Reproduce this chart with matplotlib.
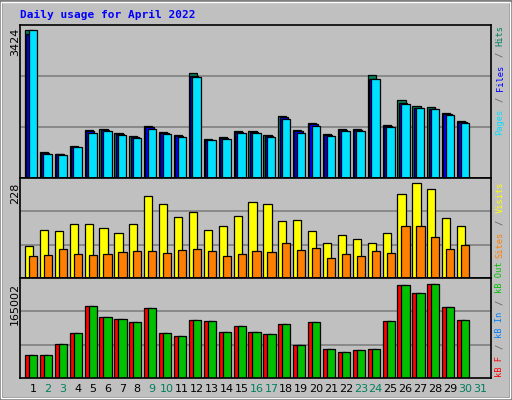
import matplotlib
matplotlib.use("Agg")
import matplotlib.pyplot as plt
from matplotlib.patches import Rectangle

# === data
days = list(range(1, 32))
weekend_days = [2, 3, 9, 10, 16, 17, 23, 24, 30, 31]

hits = [3424, 606, 559, 745, 1118, 1141, 1048, 978, 1211, 1071,
        1001, 2422, 908, 955, 1095, 1095, 1001, 1444, 1118, 1281,
        1025, 1141, 1141, 2375, 1234, 1793, 1677, 1654, 1514, 1328]
files = [3330, 585, 545, 725, 1080, 1100, 1010, 950, 1170, 1040,
         975, 2350, 885, 930, 1060, 1060, 975, 1400, 1080, 1240,
         995, 1105, 1105, 2300, 1195, 1740, 1630, 1605, 1470, 1290]
pages = [3424, 560, 530, 710, 1050, 1090, 990, 930, 1140, 1020,
         955, 2330, 870, 910, 1050, 1040, 960, 1370, 1050, 1210,
         980, 1090, 1090, 2290, 1180, 1720, 1620, 1600, 1460, 1270]

visits = [77, 116, 114, 131, 131, 121, 107, 131, 196, 178,
          146, 159, 116, 126, 149, 183, 178, 136, 139, 114,
          84, 104, 94, 84, 109, 203, 228, 213, 144, 126]
sites = [52, 55, 69, 57, 55, 57, 62, 64, 64, 59,
         67, 69, 64, 52, 57, 64, 62, 84, 67, 72,
         47, 57, 52, 64, 59, 124, 124, 99, 69, 79]

kbytes = [39900, 39900, 60400, 79800, 127500, 107000, 103400, 97900, 123300, 79800,
          74300, 101500, 99700, 81600, 90700, 81600, 78000, 94300, 58000, 97900,
          50800, 45300, 49000, 50800, 99700, 163200, 148700, 165002, 125100, 101500]

W, H = 512, 400
BG = "#c0c0c0"
C_HITS, C_FILES, C_PAGES = "#00805c", "#0000ff", "#00e0ff"
C_VISITS, C_SITES = "#ffff00", "#ff8000"
C_KBF, C_KBIN, C_KBOUT = "#ff0000", "#0080ff", "#00c000"

fig = plt.figure(figsize=(W / 100, H / 100), dpi=100, facecolor=BG)

# bevelled frame
fig.patches.append(Rectangle((0, 0), 1, 1, transform=fig.transFigure,
                             fill=False, edgecolor="#808080", linewidth=4))
fig.patches.append(Rectangle((0.002, 0.004), 0.994, 0.992, transform=fig.transFigure,
                             fill=False, edgecolor="white", linewidth=1))


def panel(top, bottom):
    x0, x1 = 20, 491
    return fig.add_axes([x0 / W, 1 - bottom / H, (x1 - x0) / W, (bottom - top) / H], facecolor=BG)


day0 = 1 - 13 / 14.9
xlim = (day0, day0 + 471 / 14.9)


def style(ax, ymax):
    ax.set_xlim(*xlim)
    ax.set_ylim(0, ymax)
    ax.set_xticks([])
    ax.set_yticks([])
    for s in ax.spines.values():
        s.set_color("black")
        s.set_linewidth(1.2)
    for frac in (1 / 3, 2 / 3):
        ax.axhline(ymax * frac, color="#808080", linewidth=1.2, zorder=0)


x = days[:30]
bar = dict(edgecolor="black", linewidth=0.9, align="edge")

# === top panel: hits / files / pages
ax1 = panel(25, 178)
style(ax1, hits[0] * 153 / 148)
ax1.bar([d - 0.54 for d in x], hits, width=0.55, color=C_HITS, **bar)
ax1.bar([d - 0.45 for d in x], files, width=0.55, color=C_FILES, **bar)
ax1.bar([d - 0.30 for d in x], pages, width=0.57, color=C_PAGES, **bar)

# === middle panel: visits / sites
ax2 = panel(178, 278)
style(ax2, max(visits) * 97 / 92)
ax2.bar([d - 0.54 for d in x], visits, width=0.55, color=C_VISITS, **bar)
ax2.bar([d - 0.27 for d in x], sites, width=0.55, color=C_SITES, **bar)

# === bottom panel: kB
ax3 = panel(278, 378)
style(ax3, max(kbytes) * 97 / 91)
ax3.bar([d - 0.54 for d in x], kbytes, width=0.55, color=C_KBF, **bar)
ax3.bar([d - 0.27 for d in x], kbytes, width=0.55, color=C_KBOUT, **bar)

# day labels
for d in days:
    xp = 20 + (d - xlim[0]) * 14.9
    fig.text(xp / W, 1 - 389 / H, str(d), ha="center", va="center", fontsize=8,
             color=C_HITS if d in weekend_days else "black")

# title
fig.text(20 / W, 1 - 15 / H, "Daily usage for April 2022", color="#0000ff",
         fontsize=8, fontweight="bold", family="DejaVu Sans Mono", ha="left", va="center")

# max value labels
for txt, ytop in [("3424", 28), ("228", 183), ("165002", 283)]:
    fig.text(15 / W, 1 - ytop / H, txt, rotation=90, ha="center", va="top", fontsize=8)

# right legends, rotated, built piece by piece
FS = 6.3
ADV = 0.602 * FS * 100 / 72 + 0.3
MONO = dict(family="DejaVu Sans Mono", fontsize=FS, rotation=90, ha="center", va="bottom")


def legend(pieces, ybottom):
    y = ybottom
    for txt, col in pieces:
        t = txt.strip()
        lead = len(txt) - len(txt.lstrip())
        fig.text(500 / W, 1 - (y - lead * ADV) / H, t, color=col, **MONO)
        y -= len(txt) * ADV


GRAY = "#606060"
leg1 = [("Pages", C_PAGES), (" / ", GRAY), ("Files", C_FILES), (" / ", GRAY), ("Hits", C_HITS)]
leg2 = [("Sites", C_SITES), (" / ", GRAY), ("Visits", C_VISITS)]
leg3 = [("kB F", C_KBF), (" / ", GRAY), ("kB In", C_KBIN), (" / ", GRAY), ("kB Out", C_KBOUT)]
legend(leg1, 24 + 20 * ADV)
legend(leg2, 180 + 14 * ADV)
legend(leg3, 377)

fig.savefig("out.png", dpi=100, facecolor=BG)
